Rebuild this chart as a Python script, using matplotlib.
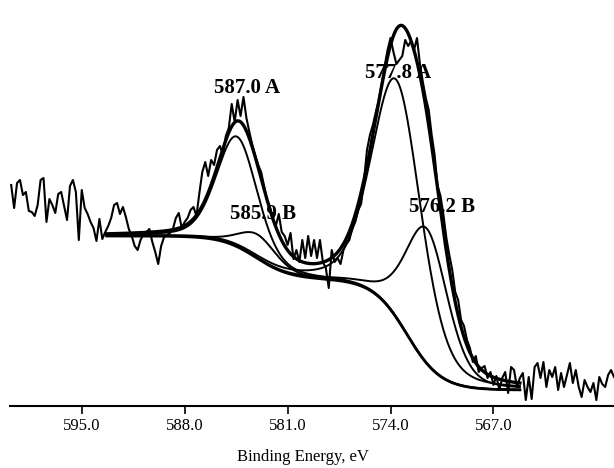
import numpy as np
import matplotlib.pyplot as plt

plt.rcParams['font.family'] = ['Liberation Serif', 'DejaVu Serif']

# recorded spectrum, 0.2 eV step from 599.8 eV down to 558.8 eV
be_raw = np.round(np.arange(599.8, 558.75, -0.2), 1)
counts_raw = np.array([
    221, 198, 223, 226, 211, 214, 195, 194, 190, 201,
    226, 228, 184, 207, 201, 193, 212, 214, 200, 186,
    220, 226, 214, 166, 216, 198, 192, 184, 178, 165,
    187, 167, 174, 180, 188, 201, 203, 192, 199, 189,
    177, 170, 160, 156, 166, 172, 174, 177, 164, 154,
    142, 160, 169, 171, 173, 177, 188, 193, 178, 184,
    188, 196, 199, 190, 213, 234, 244, 230, 246, 241,
    256, 260, 251, 270, 278, 302, 284, 306, 290, 309,
    288, 274, 261, 250, 241, 234, 220, 206, 199, 186,
    180, 192, 174, 170, 161, 173, 147, 156, 144, 166,
    148, 170, 150, 166, 148, 166, 144, 138, 118, 156,
    144, 148, 142, 156, 162, 166, 178, 184, 196, 202,
    226, 256, 271, 281, 294, 306, 322, 340, 356, 368,
    354, 342, 346, 350, 366, 360, 365, 356, 368, 342,
    324, 308, 296, 271, 251, 220, 210, 191, 168, 151,
    136, 114, 106, 86, 80, 66, 58, 44, 50, 34,
    38, 40, 28, 34, 21, 30, 16, 28, 34, 13,
    39, 36, 19, 28, 33, 6, 29, 7, 39, 43,
    28, 44, 19, 36, 29, 39, 16, 33, 19, 31,
    43, 23, 36, 19, 9, 26, 19, 14, 23, 6,
    29, 22, 19, 31, 36, 29,
])

# fitted components: label, position (eV), height, FWHM (eV)
peak_labels = ['587.0 A', '585.9 B', '577.8 A', '576.2 B']
peak_pos = [584.44, 583.01, 573.56, 571.52]
peak_height = [110, 24, 238, 135]
peak_fwhm = [3.27, 3.00, 3.95, 3.40]
lor_frac = 0.3

# background: level on the low-BE side plus two steps
bg_level = 16
step_pos = [583.15, 572.88]
step_height = [43, 111]
step_width = 1.16

# where the labels sit (eV, intensity)
label_x = [583.76, 582.67, 573.49, 570.50]
label_y = [318, 192, 333, 199]


def pseudo_voigt(e, c, h, w, m):
    d = (e - c) / w
    return h * ((1 - m) * np.exp(-4 * np.log(2) * d ** 2) + m / (1 + 4 * d ** 2))


be_fit = np.linspace(593.3, 565.2, 700)
bg = bg_level + np.zeros_like(be_fit)
for c, h in zip(step_pos, step_height):
    bg += h / (1 + np.exp(-(be_fit - c) / step_width))

comps = [pseudo_voigt(be_fit, c, h, w, lor_frac)
         for c, h, w in zip(peak_pos, peak_height, peak_fwhm)]
envelope = bg + np.sum(comps, axis=0)

fig = plt.figure(figsize=(6.14, 4.68), dpi=100)
ax = fig.add_axes([10 / 614, 62 / 468, 604 / 614, 406 / 468])

ax.plot(be_raw, counts_raw, color='black', lw=1.5, zorder=2)
for comp in comps:
    ax.plot(be_fit, bg + comp, color='black', lw=1.4, zorder=3)
ax.plot(be_fit, bg, color='black', lw=2.0, zorder=3)
ax.plot(be_fit, envelope, color='black', lw=2.4, zorder=4)

for txt, x, y in zip(peak_labels, label_x, label_y):
    ax.text(x, y, txt, ha='center', va='center', fontsize=15,
            fontweight='bold', zorder=1)

ax.set_xlim(599.88, 558.80)
ax.set_ylim(0, 406)

ticks = [595.0, 588.0, 581.0, 574.0, 567.0]
ax.set_xticks(ticks)
ax.set_xticklabels(['%.1f' % t for t in ticks], fontsize=12)
ax.tick_params(axis='x', direction='out', length=6, width=1.2, pad=3)
ax.set_yticks([])
for s in ['left', 'right', 'top']:
    ax.spines[s].set_visible(False)
ax.spines['bottom'].set_linewidth(1.5)

ax.set_xlabel('Binding Energy, eV', fontsize=12)
ax.xaxis.set_label_coords(293 / 604, -0.105)

fig.savefig('out.png', dpi=100)
